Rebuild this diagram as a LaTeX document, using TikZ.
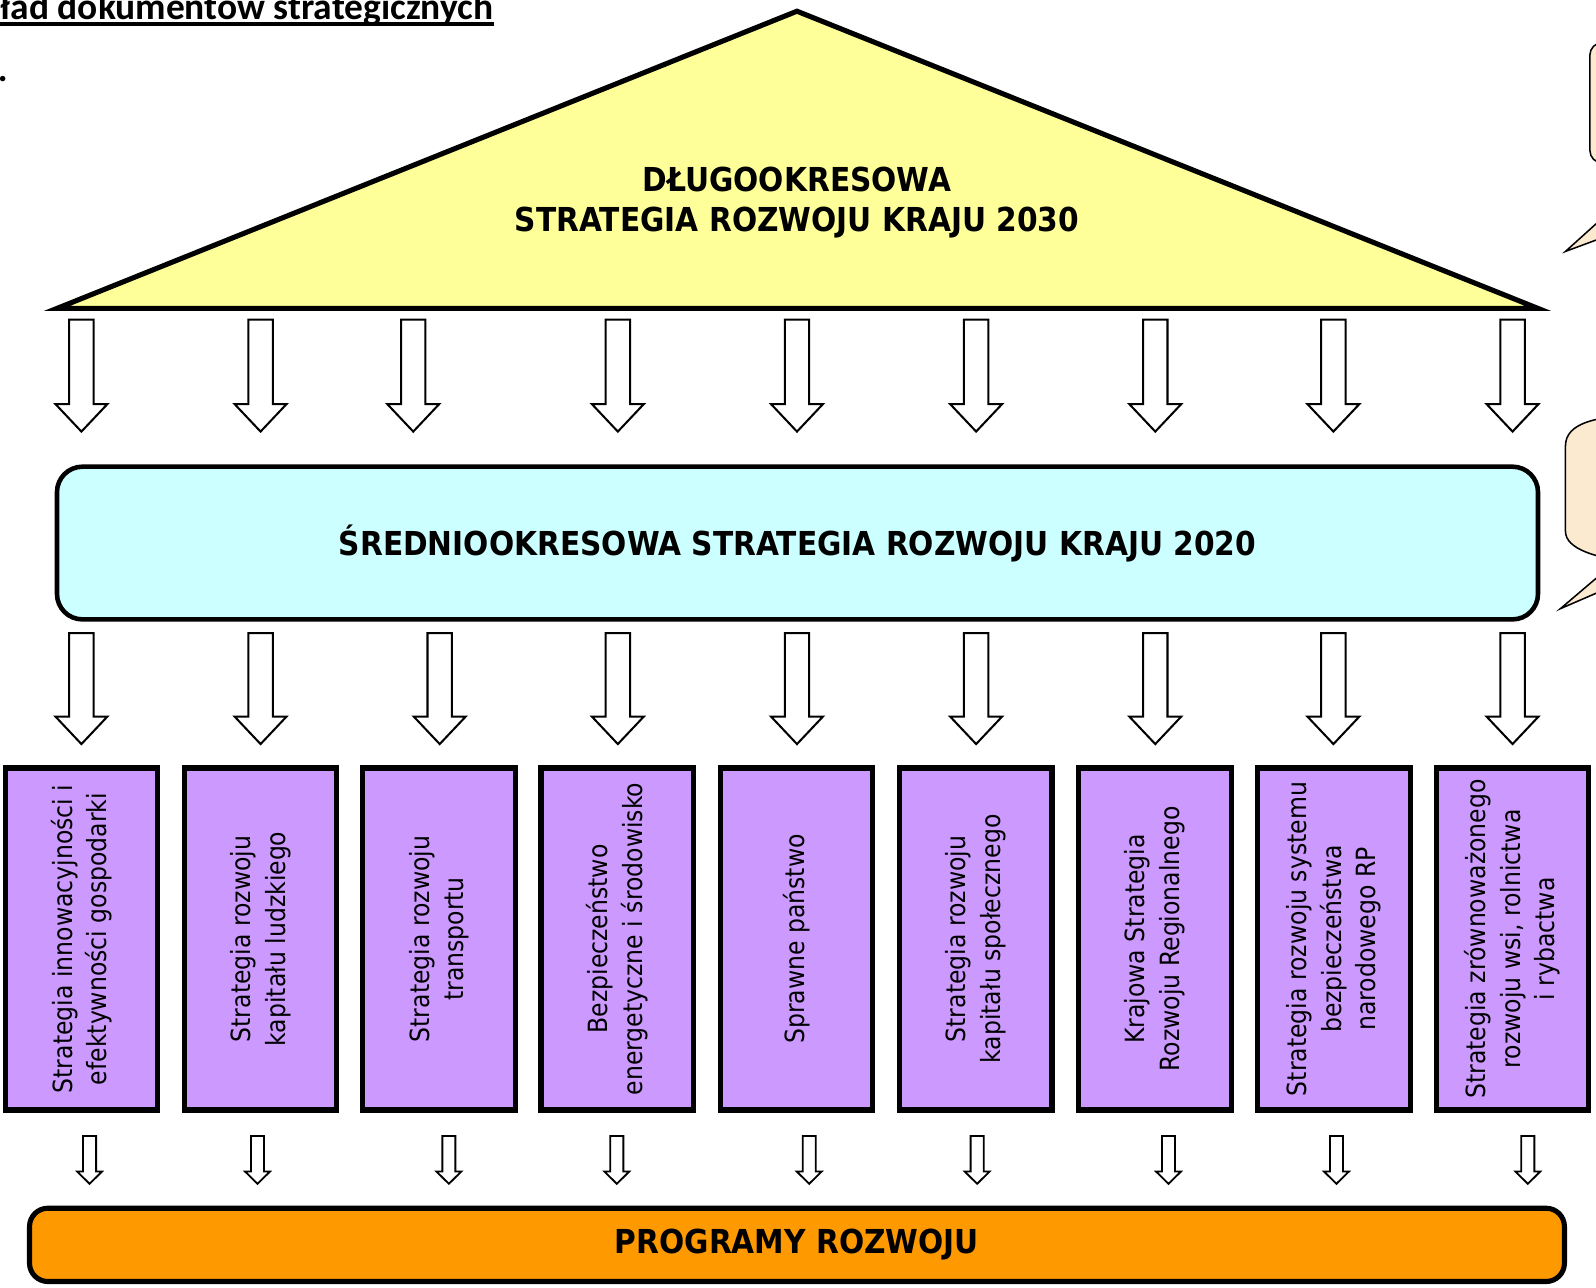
\documentclass[tikz,border=0pt]{standalone}
\usepackage{fontspec}
\setmainfont{DejaVu Sans}
\newfontfamily\boxfont[FakeStretch=0.89]{DejaVu Sans}
\newfontfamily\headfont[FakeStretch=0.9]{DejaVu Sans Bold}
\newfontfamily\calfont{Carlito}
\usepackage{tikz}

\definecolor{triyellow}{HTML}{FFFF99}
\definecolor{midcyan}{HTML}{CCFFFF}
\definecolor{stratviolet}{HTML}{CC99FF}
\definecolor{progorange}{HTML}{FF9900}
\definecolor{notebeige}{HTML}{FCEAD0}

\tikzset{
  headtxt/.style={inner sep=0pt, align=center, font=\headfont\fontsize{16.2pt}{19.5pt}\selectfont},
  blockarr/.style={draw=black, fill=white, line width=1pt, line join=miter},
  smallarr/.style={draw=black, fill=white, line width=0.9pt, line join=miter},
  note/.style={draw=black, fill=notebeige, line width=0.75pt}
}

\begin{document}
\begin{tikzpicture}[x=0.5pt,y=-0.5pt]
        \useasboundingbox (0,0) rectangle (1568,1265);
        % header cut at the page edge
        \node[anchor=base east, inner sep=0pt, font=\calfont\bfseries\fontsize{18.4pt}{21pt}\selectfont] (title) at (485,19) {ład dokumentów strategicznych};
        \draw[line width=2pt] ([yshift=-2.5pt]title.base west) -- ([yshift=-2.5pt]title.base east);
        \node[anchor=base west, inner sep=0pt, font=\calfont\bfseries\fontsize{18pt}{21pt}\selectfont] (dot) at (-2.5,80) {.};

        % roof
        \draw[line width=2.5pt, fill=triyellow, line join=miter] (783,11) -- (1511,303) -- (56,303) -- cycle;
        \node[headtxt] (dsrk) at (783,199) {DŁUGOOKRESOWA\\STRATEGIA ROZWOJU KRAJU 2030};

        \foreach \x in {80,256,406,607,783,959,1135,1310,1486}
                \draw[blockarr] (\x-12,314) -- (\x+12,314) -- (\x+12,397) -- (\x+25.5,397) -- (\x,424) -- (\x-25.5,397) -- (\x-12,397) -- cycle;

        \node[headtxt, draw, line width=2.25pt, fill=midcyan, rounded corners=12.5pt, minimum width=727.5pt, minimum height=75pt] (srk) at (783.5,533.5) {ŚREDNIOOKRESOWA STRATEGIA ROZWOJU KRAJU 2020};

        \foreach \x in {80,256,432,607,783,959,1135,1310,1486}
                \draw[blockarr] (\x-12,622) -- (\x+12,622) -- (\x+12,704) -- (\x+25.5,704) -- (\x,731) -- (\x-25.5,704) -- (\x-12,704) -- cycle;

        % nine strategies
        \begin{scope}[every node/.style={rotate=90, draw, line width=2.5pt, fill=stratviolet, minimum width=168pt, minimum height=75pt, inner sep=0pt, align=center, font=\boxfont\fontsize{13pt}{17pt}\selectfont}]
                \foreach \x/\txt [count=\i] in {80/{Strategia innowacyjności i\\efektywności gospodarki},
                                256/{Strategia rozwoju\\kapitału ludzkiego},
                                431.5/{Strategia rozwoju\\transportu},
                                606.5/{Bezpieczeństwo\\energetyczne i środowisko},
                                782.5/{Sprawne państwo},
                                958.5/{Strategia rozwoju\\kapitału społecznego},
                                1134.5/{Krajowa Strategia\\Rozwoju Regionalnego},
                                1310.5/{Strategia rozwoju systemu\\bezpieczeństwa\\narodowego RP},
                                1486/{Strategia zrównoważonego\\rozwoju wsi, rolnictwa\\i rybactwa}}
                        \node (str\i) at (\x,922.5) {\txt};
        \end{scope}

        \foreach \x in {88,253,441,606,795,960,1148,1313,1501}
                \draw[smallarr] (\x-6.4,1116) -- (\x+6.4,1116) -- (\x+6.4,1151) -- (\x+12.2,1151) -- (\x,1163) -- (\x-12.2,1151) -- (\x-6.4,1151) -- cycle;

        \node[headtxt, draw, line width=2.5pt, fill=progorange, rounded corners=9pt, minimum width=754pt, minimum height=36pt] (prog) at (783,1223) {PROGRAMY ROZWOJU};

        % callouts at the right edge
        \draw[note, rounded corners=6pt] (1562,42) rectangle (1620,160);
        \fill[notebeige] (1600,191) -- (1538,247) -- (1600,224) -- cycle;
        \draw[line width=0.75pt] (1600,191) -- (1538,247) -- (1600,224);
        \draw[note] (1600,408) .. controls (1570,410) and (1538,415) .. (1538,438) -- (1538,522) .. controls (1538,540) and (1570,548) .. (1600,552) -- cycle;
        \fill[notebeige] (1600,541) -- (1533,598) -- (1600,569) -- cycle;
        \draw[line width=0.75pt] (1600,541) -- (1533,598) -- (1600,569);
\end{tikzpicture}
\end{document}
